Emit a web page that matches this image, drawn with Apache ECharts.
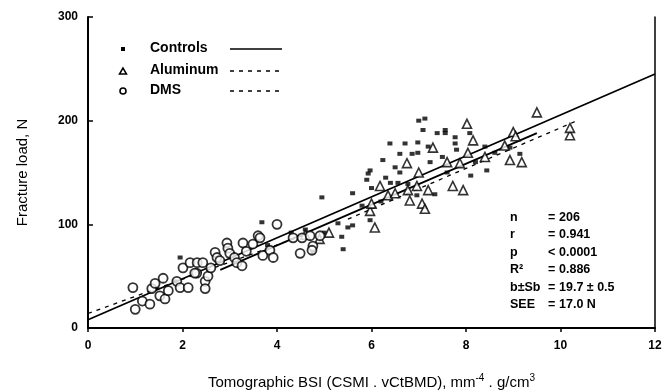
<!DOCTYPE html>
<html>
<head>
<meta charset="utf-8">
<script src="https://cdn.jsdelivr.net/npm/echarts@6/dist/echarts.min.js"></script>
<style>
  html, body { margin: 0; background: #fff; }
  #chart { width: 664px; height: 391px; }
</style>
</head>
<body>
<div id="chart"></div>
<script>
// values (x = BSI, y = fracture load in N)
const controls = [
  [1.84, 45], [1.95, 68], [3.68, 102], [3.8, 80], [4.3, 92], [4.6, 95], [5.0, 92],
  [4.95, 126], [5.6, 130], [6.0, 135], [5.29, 101], [5.5, 97], [5.6, 99], [5.37, 88],
  [5.4, 76], [4.76, 73], [5.97, 104], [6.96, 128], [7.34, 129], [6.39, 178], [6.71, 178],
  [6.98, 179], [6.6, 168], [6.86, 168], [6.98, 169], [6.24, 162], [5.97, 152], [5.93, 149],
  [6.6, 150], [7.24, 160], [6.56, 140], [6.77, 139], [7.56, 191], [7.77, 184], [7.77, 178],
  [8.44, 152], [8.93, 174], [9.14, 168], [8.61, 169], [7.13, 202], [7.09, 191], [7.39, 188],
  [7.56, 188], [8.08, 188], [5.8, 118], [6.2, 122], [6.4, 140], [5.9, 143], [6.5, 155],
  [7.5, 165], [7.8, 172], [8.2, 160], [8.4, 175], [7.6, 150], [8.1, 147], [7.0, 200],
  [6.3, 145], [7.2, 175]
];
const aluminum = [
  [5.97, 113], [6.07, 97], [6.18, 137], [6.35, 128], [6.5, 130], [6.77, 133], [6.96, 137],
  [7.2, 133], [6.81, 123], [7.07, 120], [7.13, 115], [7.3, 174], [6.75, 159], [8.02, 197],
  [9.5, 208], [8.15, 181], [8.04, 169], [7.87, 159], [9.0, 189], [9.05, 185], [8.82, 176],
  [8.93, 162], [9.18, 160], [7.72, 137], [7.94, 133], [10.2, 186], [10.2, 193], [7.0, 150],
  [7.6, 160], [8.4, 165], [4.6, 90], [4.9, 86], [5.1, 92], [6.0, 120]
];
const dms = [
  [0.95, 39], [1.0, 18], [1.15, 26], [1.31, 23], [1.35, 38], [1.42, 43], [1.59, 48],
  [1.52, 31], [1.63, 28], [1.7, 36], [1.88, 45], [1.95, 39], [2.12, 39], [2.3, 53],
  [2.01, 58], [2.16, 63], [2.31, 63], [2.43, 63], [2.26, 53], [2.48, 45], [2.48, 38],
  [2.54, 50], [2.6, 58], [2.69, 73], [2.73, 68], [2.79, 65], [2.94, 82], [2.96, 77],
  [3.0, 72], [3.1, 68], [3.15, 63], [3.26, 60], [3.28, 82], [3.35, 74], [3.49, 81],
  [3.6, 89], [3.7, 70], [3.64, 87], [3.85, 75], [3.92, 68], [4.0, 100], [4.34, 87],
  [4.53, 87], [4.7, 89], [4.76, 79], [4.74, 75], [4.91, 89], [4.49, 72]
];
// regression lines: [x, y] end points
const overallFit = [[0, 8], [12, 245]];
const controlsFit = [[2.8, 56], [9.5, 188]];
const aluminumFit = [[5.5, 105], [10.3, 199]];
const dmsFit = [[0, 14], [4.6, 90]];

const xTicks = [0, 12, 2];
const yTicks = [0, 300, 100];

const stats = [
  ["n", "=", "206"],
  ["r", "=", "0.941"],
  ["p", "<", "0.0001"],
  ["R\u00B2", "=", "0.886"],
  ["b\u00B1Sb", "=", "19.7 \u00B1 0.5"],
  ["SEE", "=", "17.0 N"]
];

const font = "'Liberation Sans', Arial, sans-serif";
const chart = echarts.init(document.getElementById("chart"));

const statGraphics = [];
stats.forEach((row, i) => {
  const y = 218 + i * 17.4;
  statGraphics.push(
    { type: "text", left: 510, top: y - 7, style: { text: row[0], font: "bold 12.5px " + font, fill: "#000" } },
    { type: "text", left: 548, top: y - 7, style: { text: row[1], font: "bold 12.5px " + font, fill: "#000" } },
    { type: "text", left: 559, top: y - 7, style: { text: row[2], font: "bold 12.5px " + font, fill: "#000" } }
  );
});

const legendGraphics = [
  { type: "rect", shape: { x: 121, y: 47, width: 4, height: 4 }, style: { fill: "#000" } },
  { type: "text", left: 150, top: 41, style: { text: "Controls", font: "bold 14px " + font, fill: "#000" } },
  { type: "line", shape: { x1: 230, y1: 49, x2: 282, y2: 49 }, style: { stroke: "#000", lineWidth: 1.5 } },
  { type: "polygon", shape: { points: [[123, 68], [119.5, 74], [126.5, 74]] }, style: { fill: "#fff", stroke: "#000", lineWidth: 1.5 } },
  { type: "text", left: 150, top: 63, style: { text: "Aluminum", font: "bold 14px " + font, fill: "#000" } },
  { type: "line", shape: { x1: 230, y1: 71, x2: 282, y2: 71 }, style: { stroke: "#000", lineWidth: 1.3, lineDash: [4, 5] } },
  { type: "circle", shape: { cx: 123, cy: 91, r: 3 }, style: { fill: "#fff", stroke: "#000", lineWidth: 1.6 } },
  { type: "text", left: 150, top: 83, style: { text: "DMS", font: "bold 14px " + font, fill: "#000" } },
  { type: "line", shape: { x1: 230, y1: 91, x2: 282, y2: 91 }, style: { stroke: "#000", lineWidth: 1.3, lineDash: [4, 5] } }
];

const axisLabelStyle = { color: "#000", fontFamily: font, fontSize: 12, fontWeight: "bold" };

const option = {
  animation: false,
  backgroundColor: "#fff",
  grid: { left: 88, right: 9, top: 17, bottom: 63, containLabel: false, outerBoundsMode: "none" },
  xAxis: {
    type: "value",
    min: xTicks[0], max: xTicks[1], interval: xTicks[2],
    name: "{n|Tomographic BSI (CSMI . vCtBMD), mm}{s|-4}{n| . g/cm}{s|3}",
    nameLocation: "middle",
    nameGap: 45,
    nameTextStyle: {
      rich: {
        n: { fontFamily: font, fontSize: 15, color: "#000" },
        s: { fontFamily: font, fontSize: 10, color: "#000", padding: [0, 0, 10, 0] }
      }
    },
    axisLine: { lineStyle: { color: "#000", width: 2 } },
    axisTick: { inside: false, length: 4, lineStyle: { color: "#000", width: 1.5 } },
    axisLabel: Object.assign({ margin: 12 }, axisLabelStyle),
    splitLine: { show: false }
  },
  yAxis: [
    {
      type: "value",
      min: yTicks[0], max: yTicks[1], interval: yTicks[2],
      name: "Fracture load, N",
      nameLocation: "middle",
      nameGap: 58,
      nameTextStyle: { fontFamily: font, fontSize: 15, color: "#000" },
      axisLine: { show: true, lineStyle: { color: "#000", width: 2 } },
      axisTick: { show: true, inside: true, length: 5, lineStyle: { color: "#000", width: 1.5 } },
      axisLabel: Object.assign({ margin: 10 }, axisLabelStyle),
      splitLine: { show: false }
    },
    {
      type: "value",
      position: "right",
      min: yTicks[0], max: yTicks[1], interval: yTicks[2],
      axisLine: { show: true, lineStyle: { color: "#000", width: 1.5 } },
      axisTick: { show: false },
      axisLabel: { show: false },
      splitLine: { show: false }
    }
  ],
  graphic: legendGraphics.concat(statGraphics),
  series: [
    {
      name: "Overall fit", type: "line", data: overallFit, symbol: "none",
      lineStyle: { color: "#000", width: 1.8 }, z: 1
    },
    {
      name: "Controls fit", type: "line", data: controlsFit, symbol: "none",
      lineStyle: { color: "#000", width: 1.8 }, z: 1
    },
    {
      name: "Aluminum fit", type: "line", data: aluminumFit, symbol: "none",
      lineStyle: { color: "#000", width: 1.3, type: [4, 5] }, z: 1
    },
    {
      name: "DMS fit", type: "line", data: dmsFit, symbol: "none",
      lineStyle: { color: "#000", width: 1.3, type: [4, 5] }, z: 1
    },
    {
      name: "Controls", type: "scatter", data: controls,
      symbol: "rect", symbolSize: [5, 4],
      itemStyle: { color: "#000" }, z: 3
    },
    {
      name: "Aluminum", type: "scatter", data: aluminum,
      symbol: "triangle", symbolSize: 9,
      itemStyle: { color: "#fff", borderColor: "#000", borderWidth: 1.6 }, z: 3
    },
    {
      name: "DMS", type: "scatter", data: dms,
      symbol: "circle", symbolSize: 9,
      itemStyle: { color: "#fff", borderColor: "#000", borderWidth: 1.8 }, z: 3
    }
  ]
};
chart.setOption(option);
</script>
</body>
</html>
